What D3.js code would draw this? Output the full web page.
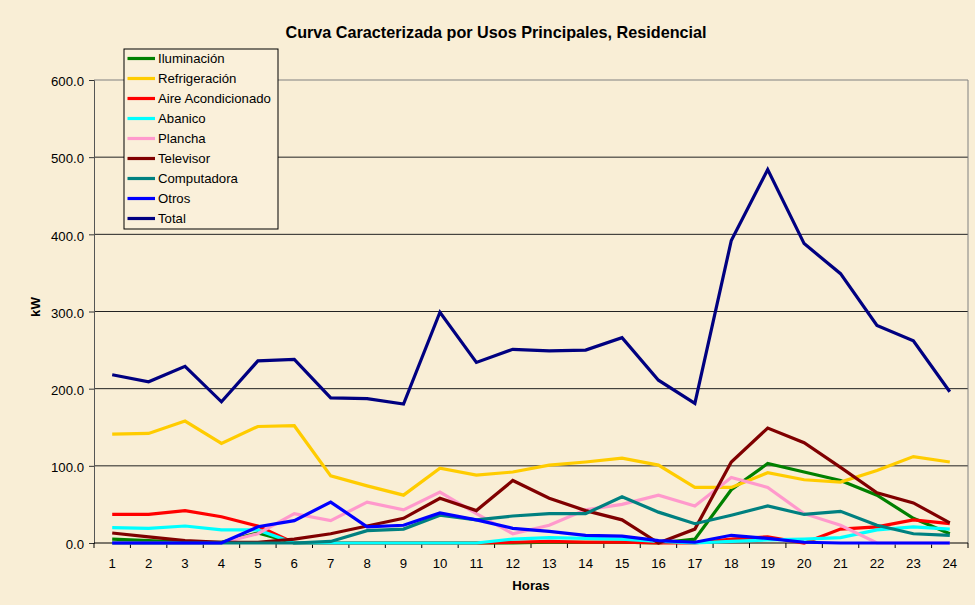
<!DOCTYPE html>
<html lang="es">
<head>
<meta charset="utf-8">
<script src="https://cdn.jsdelivr.net/npm/d3@7"></script>
<style>
  body { margin: 0; background: #f9eed6; }
  svg text { font-family: "Liberation Sans", Arial, Helvetica, sans-serif; }
</style>
</head>
<body>
<script>
// horas del dia
var horas = d3.range(1, 25);
var yTicks = [0, 100, 200, 300, 400, 500, 600];

var iluminacion   = [5, 3, 1, 1, 13, 0, 0, 0, 0, 0, 0, 0, 1, 1, 1, 0, 5, 69, 103, 92, 81, 62, 32, 12];
var refrigeracion = [141, 142, 158, 129, 151, 152, 87, 74, 62, 97, 88, 92, 101, 105, 110, 101, 72, 72, 91, 82, 79, 94, 112, 105];
var aire          = [37, 37, 42, 34, 22, 0, 0, 0, 0, 0, 0, 1, 2, 1, 1, 0, 0, 5, 8, 0, 18, 21, 30, 25];
var abanico       = [20, 19, 22, 17, 17, 0, 0, 0, 0, 0, 0, 5, 7, 6, 5, 2, 0, 2, 4, 5, 7, 17, 21, 18];
var plancha       = [0, 0, 0, 0, 12, 38, 29, 53, 43, 66, 38, 12, 23, 43, 50, 62, 48, 85, 72, 38, 23, 0, 0, 0];
var televisor     = [13, 8, 3, 1, 1, 5, 12, 22, 32, 58, 42, 81, 58, 42, 30, 0, 18, 105, 149, 130, 98, 65, 52, 26];
var computadora   = [0, 0, 0, 0, 0, 0, 2, 16, 18, 36, 30, 35, 38, 38, 60, 40, 25, 36, 48, 37, 41, 23, 12, 10];
var otros         = [0, 0, 0, 0, 21, 29, 53, 21, 23, 39, 30, 19, 15, 10, 9, 3, 1, 10, 6, 1, 0, 0, 0, 0];
var total         = [218, 209, 229, 183, 236, 238, 188, 187, 180, 299, 234, 251, 249, 250, 266, 211, 181, 392, 484, 388, 349, 282, 262, 196];

var series = [
  { name: "Iluminación", color: "#008000", values: iluminacion },
  { name: "Refrigeración", color: "#ffcc00", values: refrigeracion },
  { name: "Aire Acondicionado", color: "#ff0000", values: aire },
  { name: "Abanico", color: "#00ffff", values: abanico },
  { name: "Plancha", color: "#ff99cc", values: plancha },
  { name: "Televisor", color: "#800000", values: televisor },
  { name: "Computadora", color: "#008080", values: computadora },
  { name: "Otros", color: "#0000ff", values: otros },
  { name: "Total", color: "#000080", values: total }
];

var width = 975, height = 605;
var margin = { left: 94, right: 7, top: 80, bottom: 62 };
var font = "Liberation Sans, Arial, Helvetica, sans-serif";
var fs = 13.2;

var svg = d3.select("body").append("svg")
    .attr("width", width)
    .attr("height", height)
    .attr("font-family", font);

svg.append("rect")
    .attr("width", width)
    .attr("height", height)
    .attr("fill", "#f9eed6");

var x = d3.scaleBand()
    .domain(horas)
    .range([margin.left, width - margin.right]);

var y = d3.scaleLinear()
    .domain([0, 600])
    .range([height - margin.bottom, margin.top]);

// lineas de division
svg.append("g")
  .selectAll("line")
  .data(yTicks.slice(1))
  .enter().append("line")
    .attr("x1", margin.left)
    .attr("x2", width - margin.right)
    .attr("y1", function(d) { return y(d); })
    .attr("y2", function(d) { return y(d); })
    .attr("stroke", function(d) { return d == 600 ? "#808080" : "#222"; })
    .attr("stroke-width", 1);

// borde derecho
svg.append("line")
    .attr("x1", width - margin.right).attr("x2", width - margin.right)
    .attr("y1", margin.top).attr("y2", height - margin.bottom)
    .attr("stroke", "#808080");

// eje y
var yAxis = svg.append("g")
    .attr("transform", "translate(" + margin.left + ",0)")
    .call(d3.axisLeft(y).tickValues(yTicks).tickFormat(d3.format(".1f")).tickSize(5).tickPadding(5));
yAxis.attr("font-family", font);
yAxis.select(".domain").attr("stroke", "#555");
yAxis.selectAll(".tick line").attr("stroke", "#333");
yAxis.selectAll("text").attr("font-size", fs).attr("fill", "#000").attr("dy", "0.43em");

// eje x: marcas entre categorias
var xAxis = svg.append("g")
    .attr("transform", "translate(0," + (height - margin.bottom) + ")")
    .call(d3.axisBottom(x).tickSize(0).tickPadding(15.5));
xAxis.attr("font-family", font);
xAxis.select(".domain").remove();
xAxis.selectAll("text").attr("font-size", fs).attr("fill", "#000");
xAxis.append("line")
    .attr("x1", margin.left).attr("x2", width - margin.right)
    .attr("stroke", "#000");
xAxis.selectAll(".sep")
  .data(horas.concat([25]))
  .enter().append("line")
    .attr("class", "sep")
    .attr("x1", function(d) { return d == 25 ? width - margin.right : x(d); })
    .attr("x2", function(d) { return d == 25 ? width - margin.right : x(d); })
    .attr("y1", 0).attr("y2", 5)
    .attr("stroke", "#000");

// series
var line = d3.line()
    .x(function(d, i) { return x(horas[i]) + x.bandwidth() / 2; })
    .y(function(d) { return y(d); });

svg.append("g")
  .selectAll("path")
  .data(series)
  .enter().append("path")
    .attr("d", function(s) { return line(s.values); })
    .attr("fill", "none")
    .attr("stroke", function(s) { return s.color; })
    .attr("stroke-width", 3.2)
    .attr("stroke-linejoin", "miter");

// titulo y etiquetas de ejes
svg.append("text")
    .attr("x", 496).attr("y", 38)
    .attr("text-anchor", "middle")
    .attr("font-size", 16.2).attr("font-weight", "bold")
    .text("Curva Caracterizada por Usos Principales, Residencial");

svg.append("text")
    .attr("transform", "translate(40,307) rotate(-90)")
    .attr("text-anchor", "middle")
    .attr("font-size", fs).attr("font-weight", "bold")
    .text("kW");

svg.append("text")
    .attr("x", (margin.left + width - margin.right) / 2).attr("y", 590)
    .attr("text-anchor", "middle")
    .attr("font-size", fs).attr("font-weight", "bold")
    .text("Horas");

// leyenda
var legend = svg.append("g").attr("transform", "translate(124,49)");
legend.append("rect")
    .attr("width", 154).attr("height", 180)
    .attr("fill", "#faf0da")
    .attr("stroke", "#000");
var item = legend.selectAll(".item")
  .data(series)
  .enter().append("g")
    .attr("class", "item")
    .attr("transform", function(d, i) { return "translate(0," + (9.5 + i * 20) + ")"; });
item.append("line")
    .attr("x1", 3.5).attr("x2", 31)
    .attr("stroke", function(d) { return d.color; })
    .attr("stroke-width", 3.2);
item.append("text")
    .attr("x", 34).attr("dy", "0.36em")
    .attr("font-size", fs)
    .text(function(d) { return d.name; });
</script>
</body>
</html>
